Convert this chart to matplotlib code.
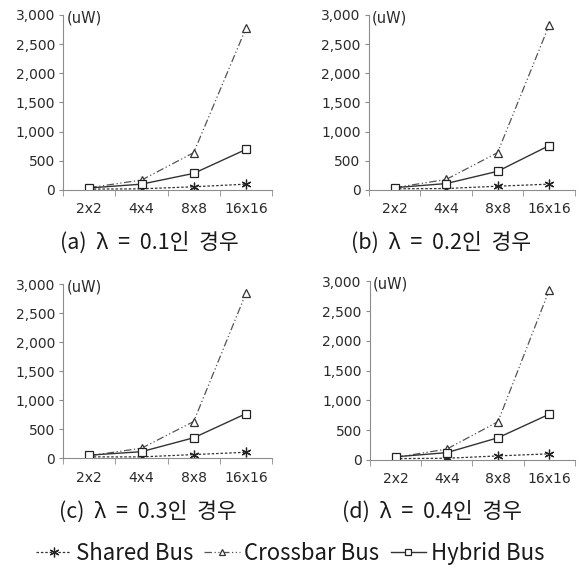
import matplotlib
matplotlib.use('Agg')
import matplotlib.pyplot as plt
import matplotlib.ticker as ticker
from matplotlib.lines import Line2D

plt.rcParams['font.family'] = ['Noto Sans CJK KR', 'DejaVu Sans']

sizes = ['2x2', '4x4', '8x8', '16x16']
lambdas = ['0.1', '0.2', '0.3', '0.4']
panel_tags = ['(a)', '(b)', '(c)', '(d)']

shared = [[15, 20, 55, 100], [20, 25, 65, 100], [20, 20, 60, 100], [20, 25, 65, 100]]
crossbar = [[40, 170, 640, 2770], [40, 180, 640, 2820], [40, 170, 630, 2840], [40, 180, 640, 2850]]
hybrid = [[35, 100, 285, 695], [40, 110, 320, 760], [50, 110, 350, 765], [50, 120, 370, 765]]

axis_col = '#8c8c8c'
txt_col = '#2a2a2a'
star = (6, 2, 0)
tick_font = ['DejaVu Sans']

fig = plt.figure(figsize=(5.8, 5.74), dpi=100)
boxes = [[0.109, 0.669, 0.360, 0.305],
         [0.636, 0.669, 0.355, 0.305],
         [0.109, 0.202, 0.360, 0.303],
         [0.638, 0.199, 0.353, 0.311]]
cap_pos = [(0.257, 0.578), (0.760, 0.578), (0.255, 0.109), (0.745, 0.109)]

for i in range(4):
    ax = fig.add_axes(boxes[i])
    x = range(len(sizes))
    ax.plot(x, shared[i], color='#333333', ls=(0, (2, 1.5)), lw=0.9,
            marker=star, ms=7, mew=0.9, mfc='none', mec='#222222')
    ax.plot(x, crossbar[i], color='#555555', ls=(0, (6, 2, 1, 2, 1, 2)), lw=0.9,
            marker='^', ms=6, mew=0.9, mfc='white', mec='#333333')
    ax.plot(x, hybrid[i], color='#333333', ls='-', lw=1.0,
            marker='s', ms=6, mew=0.9, mfc='white', mec='#222222')

    ax.set_xlim(-0.5, 3.5)
    ax.set_ylim(0, 3000)
    ax.set_yticks([0, 500, 1000, 1500, 2000, 2500, 3000])
    ax.yaxis.set_major_formatter(ticker.FuncFormatter(lambda v, p: '{:,.0f}'.format(v)))
    ax.set_xticks(list(x))
    ax.set_xticklabels(sizes)
    ax.set_xticks([-0.5, 0.5, 1.5, 2.5, 3.5], minor=True)
    ax.tick_params(axis='x', which='major', length=0, labelsize=10, pad=9, colors=txt_col)
    ax.tick_params(axis='x', which='minor', length=4, direction='out', color=axis_col)
    ax.tick_params(axis='y', length=3, labelsize=10, pad=3, color=axis_col, labelcolor=txt_col)
    for lab in ax.get_xticklabels() + ax.get_yticklabels():
        lab.set_family(tick_font)
    for s in ['top', 'right']:
        ax.spines[s].set_visible(False)
    for s in ['left', 'bottom']:
        ax.spines[s].set_color(axis_col)
        ax.spines[s].set_linewidth(0.8)
    ax.text(0.015, 0.985, '(uW)', transform=ax.transAxes, fontsize=10.5, family=tick_font,
            color=txt_col, va='center', ha='left')

    fig.text(cap_pos[i][0], cap_pos[i][1],
             panel_tags[i] + '  \u03bb  =  ' + lambdas[i] + '인  경우',
             fontsize=15.5, ha='center', va='center', color='#1a1a1a')

handles = [
    Line2D([], [], color='#333333', ls=(0, (2, 1.5)), lw=0.9, marker=star, ms=7, mew=0.9, mec='#222222'),
    Line2D([], [], color='#555555', ls=(0, (6, 2, 1, 2, 1, 2)), lw=0.9, marker='^', ms=5, mew=0.9,
           mfc='white', mec='#333333'),
    Line2D([], [], color='#333333', ls='-', lw=1.0, marker='s', ms=5, mew=0.9, mfc='white', mec='#222222'),
]
fig.legend(handles, ['Shared Bus', 'Crossbar Bus', 'Hybrid Bus'], loc='center',
           bbox_to_anchor=(0.5, 0.036), ncol=3, frameon=False, fontsize=16,
           handlelength=1.6, handletextpad=0.2, columnspacing=0.5, labelcolor='#1a1a1a')

plt.savefig('out.png', dpi=100)
